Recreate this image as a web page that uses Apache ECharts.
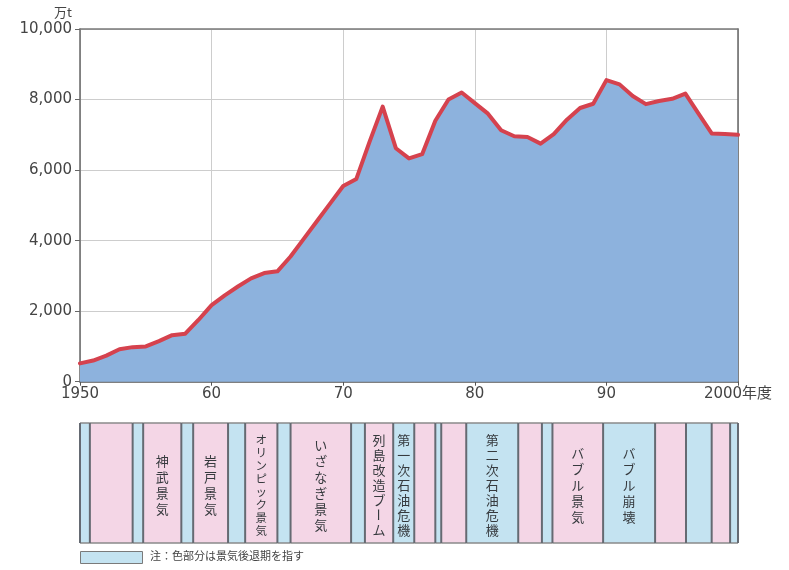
<!DOCTYPE html>
<html>
<head>
<meta charset="utf-8">
<script src="https://cdn.jsdelivr.net/npm/echarts@6/dist/echarts.min.js"></script>
<style>
  html, body { margin: 0; padding: 0; background: #ffffff; }
  #chart { width: 789px; height: 570px; }
</style>
</head>
<body>
<div id="chart"></div>
<script>
// 年度 and cement volume (万t)
const years = [
  1950, 1951, 1952, 1953, 1954, 1955, 1956, 1957, 1958, 1959,
  1960, 1961, 1962, 1963, 1964, 1965, 1966, 1967, 1968, 1969,
  1970, 1971, 1972, 1973, 1974, 1975, 1976, 1977, 1978, 1979,
  1980, 1981, 1982, 1983, 1984, 1985, 1986, 1987, 1988, 1989,
  1990, 1991, 1992, 1993, 1994, 1995, 1996, 1997, 1998, 1999,
  2000
];
const volume = [
  520, 600, 740, 920, 980, 1000, 1150, 1320, 1360, 1750,
  2170, 2450, 2700, 2930, 3080, 3130, 3550, 4050, 4550, 5050,
  5550, 5750, 6800, 7800, 6620, 6330, 6450, 7400, 8000, 8200,
  7900, 7600, 7130, 6960, 6940, 6750, 7020, 7430, 7760, 7880,
  8550, 8430, 8100, 7870, 7960, 8020, 8170, 7600, 7040, 7020,
  7000
];

// axis ticks
const xTickValues = [1950, 1960, 1970, 1980, 1990, 2000];
const xTickLabels = ['1950', '60', '70', '80', '90', '2000年度'];
const yTickValues = [0, 2000, 4000, 6000, 8000, 10000];
const yTickLabels = ['0', '2,000', '4,000', '6,000', '8,000', '10,000'];

// business-cycle phases: start / end (年度), recession flag, name
const phaseStart = [1950.0, 1950.75, 1954.0, 1954.8, 1957.7, 1958.6, 1961.25, 1962.55, 1965.0, 1966.0,
  1970.6, 1971.65, 1973.8, 1975.4, 1977.0, 1977.45, 1979.35, 1983.3, 1985.1, 1985.9,
  1989.75, 1993.7, 1996.05, 1998.0, 1999.4];
const phaseEnd = [1950.75, 1954.0, 1954.8, 1957.7, 1958.6, 1961.25, 1962.55, 1965.0, 1966.0, 1970.6,
  1971.65, 1973.8, 1975.4, 1977.0, 1977.45, 1979.35, 1983.3, 1985.1, 1985.9, 1989.75,
  1993.7, 1996.05, 1998.0, 1999.4, 2000.0];
const phaseRecession = [1, 0, 1, 0, 1, 0, 1, 0, 1, 0, 1, 0, 1, 0, 1, 0, 1, 0, 1, 0, 1, 0, 1, 0, 1];
const phaseName = ['', '', '', '神武景気', '', '岩戸景気', '', 'オリンピック景気', '', 'いざなぎ景気',
  '', '列島改造ブーム', '第一次石油危機', '', '', '', '第二次石油危機', '', '', 'バブル景気',
  'バブル崩壊', '', '', '', ''];

const noteText = '注：色部分は景気後退期を指す';

const COLOR_UP = '#f4d6e6';
const COLOR_DOWN = '#c4e3f1';
const NUM_FONT = 'DejaVu Sans, "Noto Sans CJK JP", sans-serif';
const JP_FONT = '"Noto Sans CJK JP", sans-serif';

const chart = echarts.init(document.getElementById('chart'), null, { renderer: 'canvas' });

// one coloured strip per phase, with its name set vertically
function renderPhase(params, api) {
  const i = params.dataIndex;
  const s = api.coord([api.value(0), 1]);
  const e = api.coord([api.value(1), 0]);
  const x0 = s[0], y0 = s[1], x1 = e[0], y1 = e[1];
  const children = [
    { type: 'rect', shape: { x: x0, y: y0, width: x1 - x0, height: y1 - y0 },
      style: { fill: api.value(2) ? COLOR_DOWN : COLOR_UP } },
    { type: 'line', shape: { x1: x0, y1: y0, x2: x1, y2: y0 }, style: { stroke: '#8a8a8a', lineWidth: 1.5 } },
    { type: 'line', shape: { x1: x0, y1: y1, x2: x1, y2: y1 }, style: { stroke: '#8a8a8a', lineWidth: 1.5 } },
    { type: 'line', shape: { x1: x0, y1: y0, x2: x0, y2: y1 }, style: { stroke: '#656a72', lineWidth: 2 } }
  ];
  if (i === phaseStart.length - 1) {
    children.push({ type: 'line', shape: { x1: x1, y1: y0, x2: x1, y2: y1 }, style: { stroke: '#656a72', lineWidth: 2 } });
  }
  const name = phaseName[i];
  if (name) {
    const chars = Array.from(name);
    const step = Math.min(16, 104 / chars.length);
    const size = step < 14 ? 11.5 : 13;
    const cx = (x0 + x1) / 2;
    const cy = (y0 + y1) / 2 + 2;
    const top = cy - step * (chars.length - 1) / 2;
    chars.forEach(function (ch, k) {
      children.push({
        type: 'text',
        x: cx,
        y: top + k * step,
        rotation: ch === 'ー' ? -Math.PI / 2 : 0,
        style: {
          text: ch, align: 'center', verticalAlign: 'middle',
          fontSize: size, fontFamily: JP_FONT, fill: '#363a3e'
        }
      });
    });
  }
  return { type: 'group', children: children };
}

const option = {
  backgroundColor: '#ffffff',
  animation: false,
  grid: [
    { left: 80, right: 51, top: 29, height: 352.7, outerBoundsMode: 'none', containLabel: false },
    { left: 80, right: 51, top: 423, height: 120, outerBoundsMode: 'none', containLabel: false }
  ],
  xAxis: [
    {
      type: 'value', gridIndex: 0, min: 1950, max: 2000, interval: 10,
      axisLine: { show: true, onZero: false, lineStyle: { color: '#555', width: 1.5 } },
      axisTick: { show: true, length: 4, lineStyle: { color: '#555' } },
      axisLabel: {
        margin: 5, fontSize: 15, color: '#444', fontFamily: NUM_FONT,
        formatter: function (v) { const k = xTickValues.indexOf(v); return k >= 0 ? xTickLabels[k] : ''; }
      },
      splitLine: { show: true, lineStyle: { color: '#cdcdcd', width: 1 } }
    },
    {
      type: 'value', gridIndex: 0, min: 1950, max: 2000, position: 'top',
      axisLine: { show: true, onZero: false, lineStyle: { color: '#7a7a7a', width: 1.5 } },
      axisTick: { show: false }, axisLabel: { show: false }, splitLine: { show: false }
    },
    {
      type: 'value', gridIndex: 1, min: 1950, max: 2000, show: false
    }
  ],
  yAxis: [
    {
      type: 'value', gridIndex: 0, min: 0, max: 10000, interval: 2000,
      axisLine: { show: true, onZero: false, lineStyle: { color: '#666', width: 1.5 } },
      axisTick: { show: true, length: 5, lineStyle: { color: '#666' } },
      axisLabel: {
        margin: 8, fontSize: 15, color: '#444', fontFamily: NUM_FONT,
        formatter: function (v) { const k = yTickValues.indexOf(v); return k >= 0 ? yTickLabels[k] : ''; }
      },
      splitLine: { show: true, lineStyle: { color: '#cdcdcd', width: 1 } }
    },
    {
      type: 'value', gridIndex: 0, min: 0, max: 10000, position: 'right',
      axisLine: { show: true, onZero: false, lineStyle: { color: '#666', width: 1.5 } },
      axisTick: { show: false }, axisLabel: { show: false }, splitLine: { show: false }
    },
    {
      type: 'value', gridIndex: 1, min: 0, max: 1, show: false
    }
  ],
  graphic: [
    {
      type: 'text', left: 54, top: 6, z: 10,
      style: { text: '万t', fontSize: 13, fontFamily: JP_FONT, fill: '#444' }
    },
    {
      type: 'rect', left: 80, top: 551, z: 10,
      shape: { width: 62, height: 12 },
      style: { fill: COLOR_DOWN, stroke: '#7a7a7a', lineWidth: 1 }
    },
    {
      type: 'text', left: 150, top: 550, z: 10,
      style: { text: noteText, fontSize: 11, fontFamily: JP_FONT, fill: '#444' }
    }
  ],
  series: [
    {
      type: 'line',
      xAxisIndex: 0, yAxisIndex: 0,
      data: years.map(function (y, i) { return [y, volume[i]]; }),
      symbol: 'none',
      z: 3,
      lineStyle: { color: '#d5424e', width: 4, join: 'round', cap: 'round' },
      areaStyle: { color: '#8db2dd', opacity: 1 }
    },
    {
      type: 'custom',
      xAxisIndex: 2, yAxisIndex: 2,
      clip: false,
      renderItem: renderPhase,
      data: phaseStart.map(function (s, i) { return [s, phaseEnd[i], phaseRecession[i]]; })
    }
  ]
};

chart.setOption(option);
</script>
</body>
</html>
